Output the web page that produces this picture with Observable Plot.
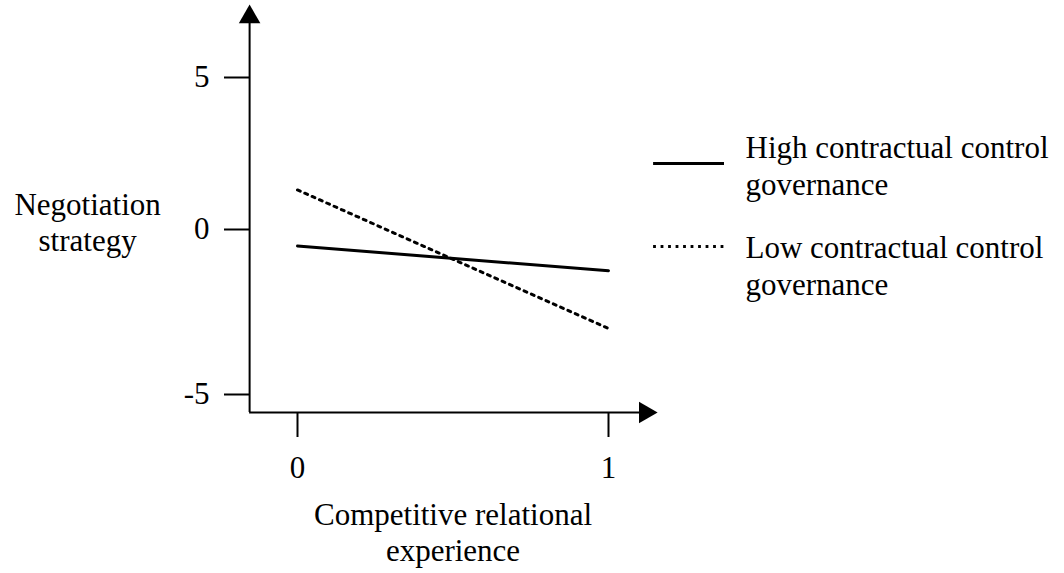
<!DOCTYPE html>
<html>
<head>
<meta charset="utf-8">
<script src="https://cdn.jsdelivr.net/npm/d3@7"></script>
<script src="https://cdn.jsdelivr.net/npm/@observablehq/plot@0.6"></script>
<style>
  html, body { margin: 0; padding: 0; background: #fff; }
  #chart { width: 1064px; height: 573px; }
  #chart svg, #chart svg text, #chart svg tspan { font-family: "Liberation Serif", "DejaVu Serif", serif !important; }
</style>
</head>
<body>
<div id="chart"></div>
<script>
// ---- data ----
const experience = [0, 1];                 // competitive relational experience
const highControl = [-0.5, -1.25];         // high contractual control governance
const lowControl = [1.3, -3.0];            // low contractual control governance
const xTicks = [0, 1];
const yTicks = [-5, 0, 5];
const seriesNames = ["High contractual control\ngovernance", "Low contractual control\ngovernance"];
const yTitle = "Negotiation\nstrategy";
const xTitle = "Competitive relational\nexperience";

// ---- layout (in data units) ----
const L = {
  axisX0: -0.154, axisY0: -5.545,
  yArrow: 6.99, xArrow: 1.118,
  legX1: 1.145, legX2: 1.373, legTextX: 1.4405,
  legHighLine: 2.17, legHighText: 2.13,
  legLowLine: -0.515, legLowText: -1.065,
  yTitleX: -0.675, yTitleY: 0.26,
  xTitleX: 0.5, xTitleY: -9.156
};

const highRows = experience.map((x, i) => ({x, y: highControl[i]}));
const lowRows = experience.map((x, i) => ({x, y: lowControl[i]}));

const FS = 31;
const FF = "Liberation Serif, DejaVu Serif, serif";
const fmt = d => String(d);
const txt = {fontSize: FS, fontFamily: FF, fill: "black"};

const chart = Plot.plot({
  width: 1064,
  height: 573,
  marginLeft: 249,
  marginBottom: 161,
  marginTop: 0,
  marginRight: 0,
  x: {type: "linear", domain: [0, 1], range: [297, 608]},
  y: {type: "linear", domain: [-5, 0, 5], range: [394, 229, 77]},
  style: {fontFamily: FF, fontSize: FS + "px", color: "black", background: "white"},
  marks: [
    // axis lines
    Plot.ruleX([{x: L.axisX0}], {x: "x", y1: L.axisY0, y2: L.yArrow, strokeWidth: 2, stroke: "black"}),
    Plot.ruleY([{y: L.axisY0}], {y: "y", x1: L.axisX0, x2: L.xArrow, strokeWidth: 2, stroke: "black"}),
    // arrow heads
    Plot.dot([{x: L.axisX0, y: L.yArrow}], {x: "x", y: "y", symbol: "triangle", r: 8, fill: "black", stroke: null}),
    Plot.dot([{x: L.xArrow, y: L.axisY0}], {x: "x", y: "y", symbol: "triangle", rotate: 90, r: 8, fill: "black", stroke: null}),
    // axes
    Plot.axisY({ticks: yTicks, tickSize: 25, tickPadding: 15, tickFormat: fmt, strokeWidth: 2, fontSize: FS, fontFamily: FF, label: null}),
    Plot.axisX({ticks: xTicks, tickSize: 25, tickPadding: 18, tickFormat: fmt, strokeWidth: 2, fontSize: FS, fontFamily: FF, label: null}),
    // series
    Plot.line(highRows, {x: "x", y: "y", stroke: "black", strokeWidth: 3}),
    Plot.line(lowRows, {x: "x", y: "y", stroke: "black", strokeWidth: 3, strokeDasharray: "3 5"}),
    // legend
    Plot.ruleY([{y: L.legHighLine}], {y: "y", x1: L.legX1, x2: L.legX2, stroke: "black", strokeWidth: 3}),
    Plot.ruleY([{y: L.legLowLine}], {y: "y", x1: L.legX1, x2: L.legX2, stroke: "black", strokeWidth: 2.8, strokeDasharray: "2.8 4.7"}),
    Plot.text([{t: seriesNames[0], y: L.legHighText}], {x: L.legTextX, y: "y", text: "t", textAnchor: "start", lineAnchor: "middle", lineHeight: 1.21, ...txt}),
    Plot.text([{t: seriesNames[1], y: L.legLowText}], {x: L.legTextX, y: "y", text: "t", textAnchor: "start", lineAnchor: "middle", lineHeight: 1.21, ...txt}),
    // titles
    Plot.text([{t: yTitle}], {x: L.yTitleX, y: L.yTitleY, text: "t", textAnchor: "middle", lineAnchor: "middle", lineHeight: 1.16, ...txt}),
    Plot.text([{t: xTitle}], {x: L.xTitleX, y: L.xTitleY, text: "t", textAnchor: "middle", lineAnchor: "middle", lineHeight: 1.16, ...txt})
  ]
});
document.getElementById("chart").appendChild(chart);
</script>
</body>
</html>
